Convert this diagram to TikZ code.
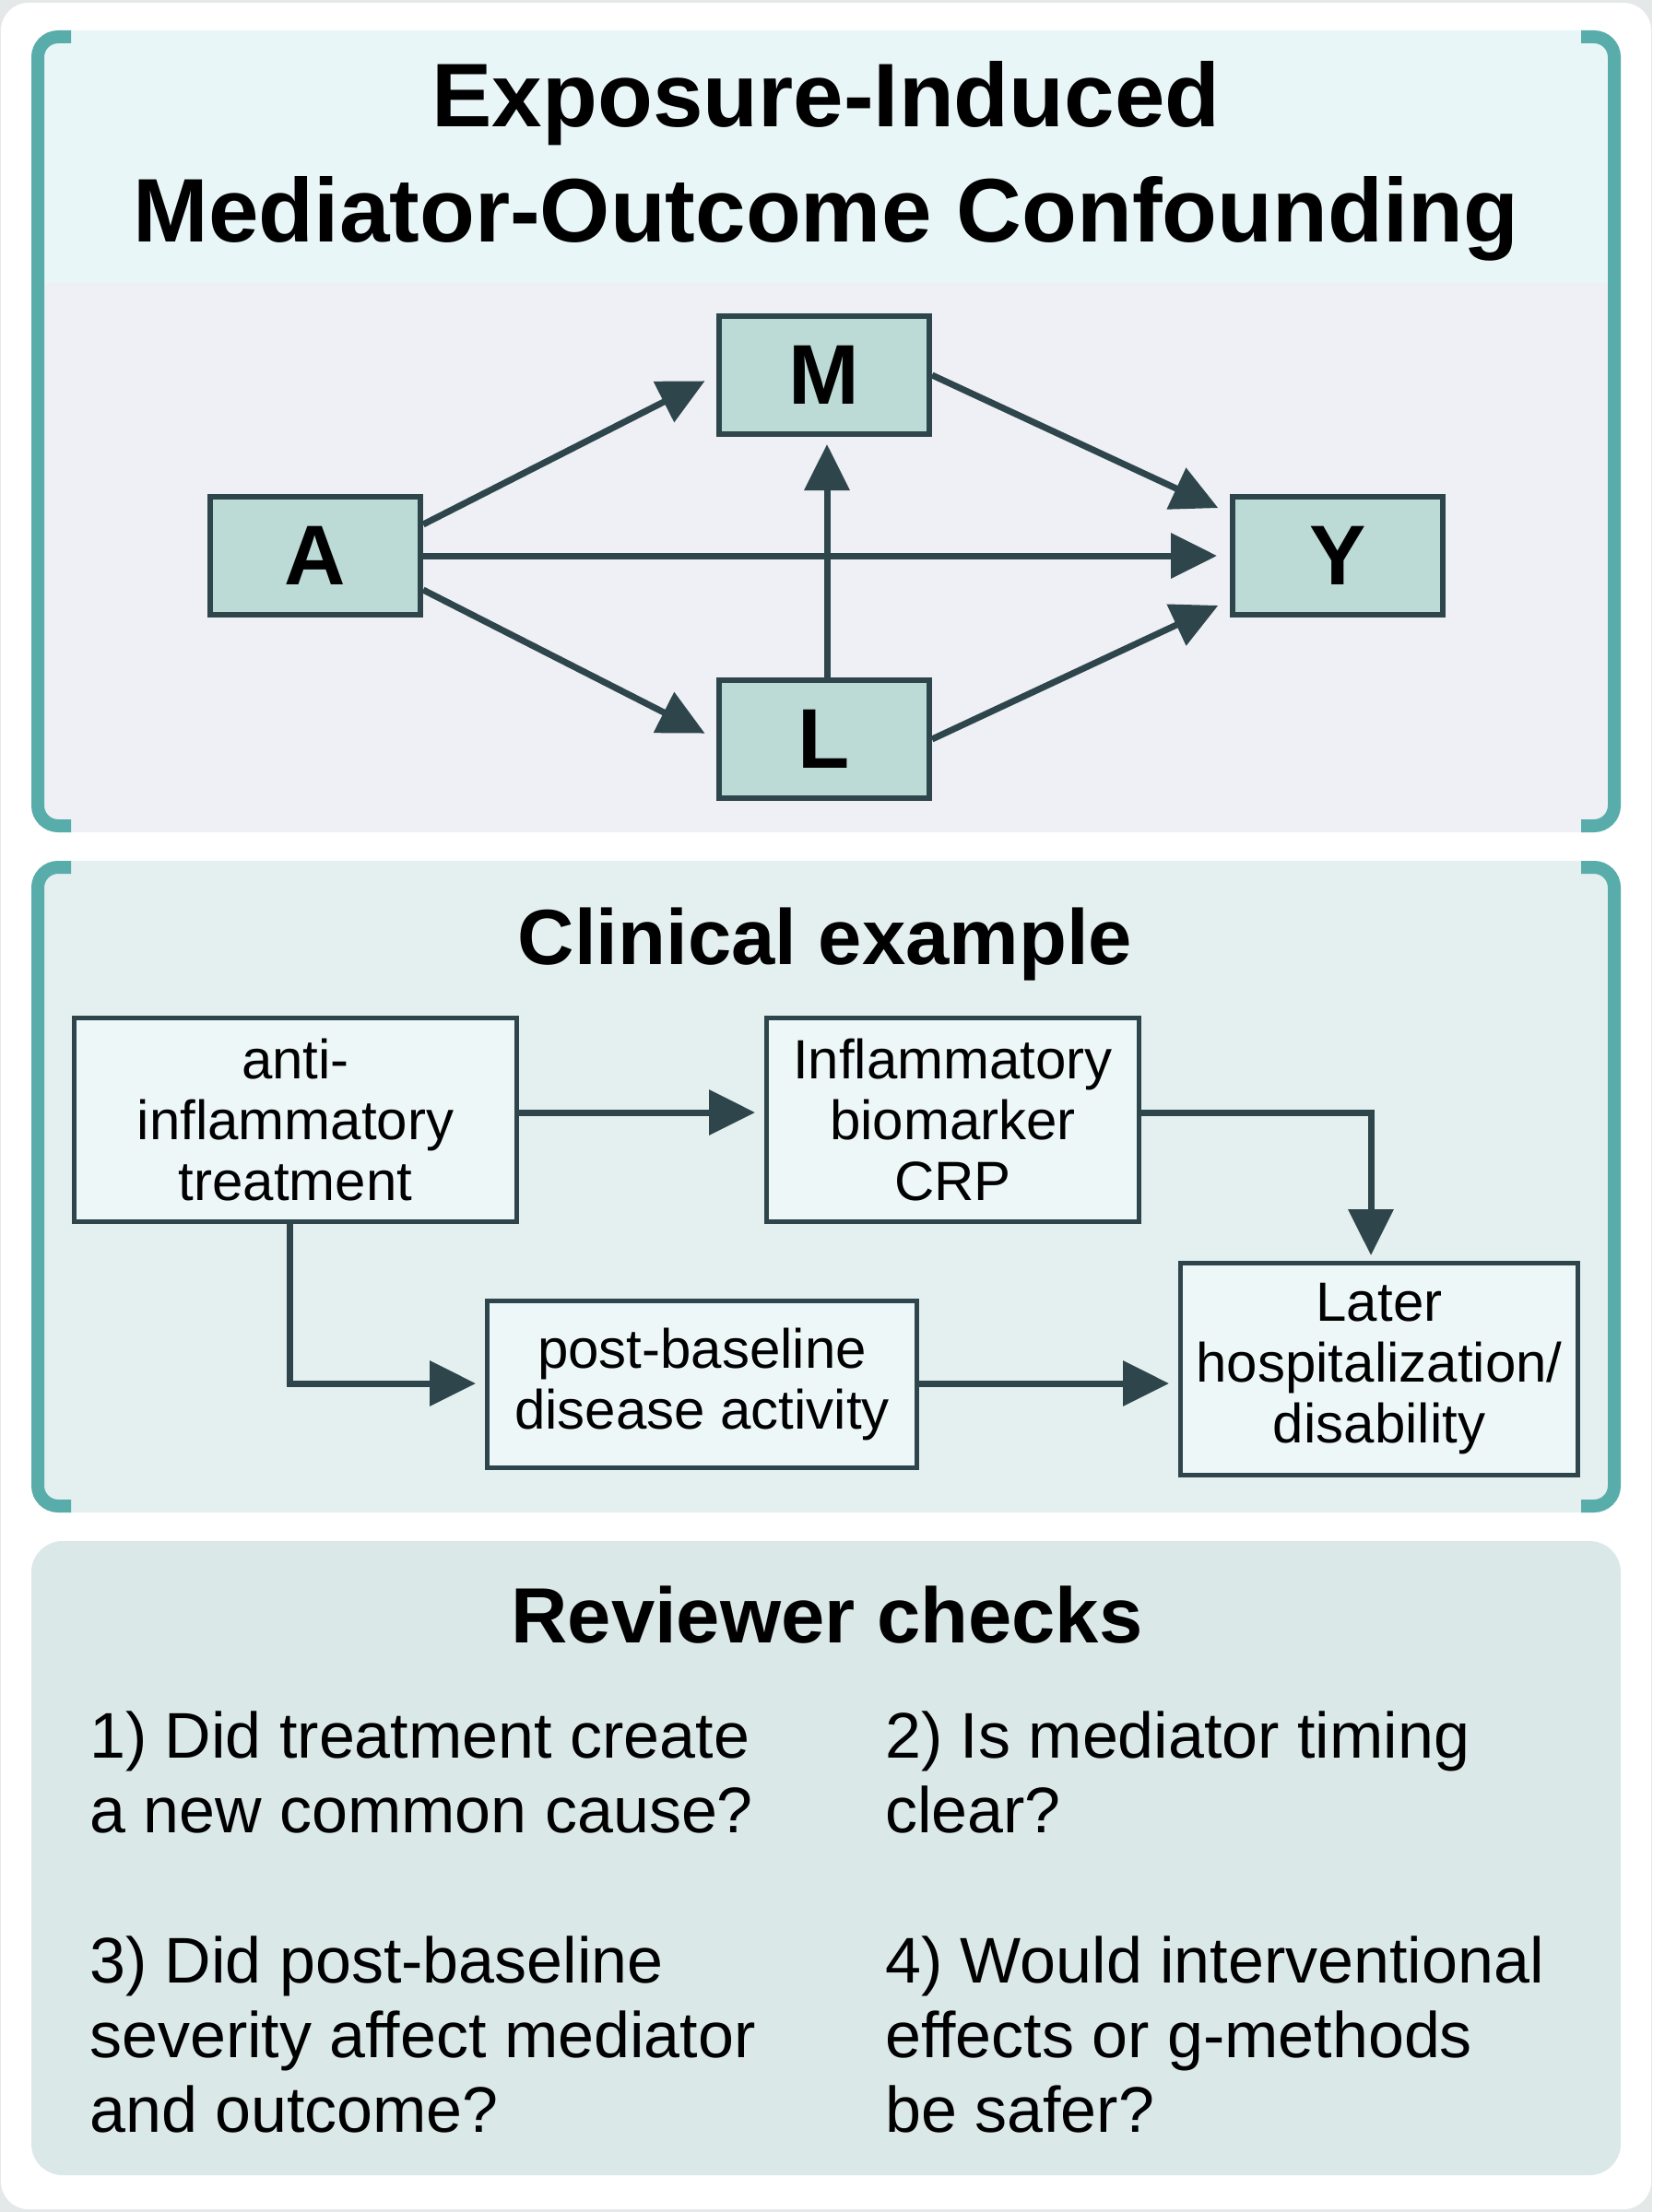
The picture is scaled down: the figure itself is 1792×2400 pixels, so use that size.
\documentclass[tikz,border=0pt]{standalone}
\usepackage{fontspec}
\setmainfont{Liberation Sans}
\usetikzlibrary{arrows.meta}
\definecolor{bgouter}{HTML}{E4E8E8}
\definecolor{bandone}{HTML}{E9F6F8}
\definecolor{lowone}{HTML}{EEF0F5}
\definecolor{pantwo}{HTML}{E3F0EF}
\definecolor{panthree}{HTML}{DAE8E8}
\definecolor{brk}{HTML}{58ADAB}
\definecolor{dagfill}{HTML}{BCDAD6}
\definecolor{boxfill}{HTML}{EDF7F7}
\definecolor{edgec}{HTML}{2E464B}
\begin{document}
\begin{tikzpicture}[x=1pt,y=-1pt,
  bracket/.style={draw=brk,line width=14pt,rounded corners=22pt},
  ttl/.style={font=\fontsize{98}{124}\selectfont\bfseries,inner sep=0pt},
  subttl/.style={font=\fontsize{85}{100}\selectfont\bfseries,inner sep=0pt},
  dag/.style={draw=edgec,fill=dagfill,line width=6pt,minimum width=228pt,minimum height=128pt,inner sep=0pt,font=\fontsize{92}{100}\selectfont\bfseries},
  cbox/.style={draw=edgec,fill=boxfill,line width=5pt,inner sep=0pt,align=center,font=\fontsize{60}{66}\selectfont},
  arr/.style={draw=edgec,line width=7pt,-{Triangle[length=50pt,width=48pt]}},
  checktxt/.style={anchor=north west,align=left,inner sep=0pt,font=\fontsize{70}{81}\selectfont}
]
\useasboundingbox (0,0) rectangle (1792,2400);
\fill[bgouter] (0,0) rectangle (1792,2400);
\fill[white,rounded corners=30pt] (1,3) rectangle (1791,2397);

% panel 1
\fill[bandone,rounded corners=22pt] (41,33) rectangle (1751,330);
\fill[lowone] (41,307) rectangle (1751,860);
\fill[lowone,rounded corners=22pt] (41,700) rectangle (1751,903);
\draw[bracket] (77,40) -- (41,40) -- (41,896) -- (77,896);
\draw[bracket] (1715,40) -- (1751,40) -- (1751,896) -- (1715,896);

% panel 2
\fill[pantwo,rounded corners=22pt] (41,934) rectangle (1751,1641);
\draw[bracket] (77,941) -- (41,941) -- (41,1634) -- (77,1634);
\draw[bracket] (1715,941) -- (1751,941) -- (1751,1634) -- (1715,1634);

% panel 3
\fill[panthree,rounded corners=34pt] (34,1672) rectangle (1758,2360);

% titles
\node[ttl,anchor=base] (t1) at (896,138) {Exposure-Induced};
\node[ttl,anchor=base] (t2) at (896,262) {Mediator-Outcome Confounding};
\node[subttl,anchor=base] (t3) at (895,1046) {Clinical example};
\node[subttl,anchor=base] (t4) at (897,1782) {Reviewer checks};

% DAG
\node[dag] (A) at (342,603) {A};
\node[dag] (M) at (894,407) {M};
\node[dag] (Y) at (1451,603) {Y};
\node[dag] (L) at (894,802) {L};

\draw[arr,shorten >=14pt] ([yshift=34pt]A.east) -- (M.west);
\draw[arr,shorten >=14pt] (M.east) -- ([yshift=46pt]Y.west);
\draw[arr,shorten >=14pt] (A.east) -- (Y.west);
\draw[arr,shorten >=14pt] ([yshift=-37pt]A.east) -- (L.west);
\draw[arr,shorten >=14pt] (L.east) -- ([yshift=-48pt]Y.west);
\draw[arr,shorten >=8pt] ([xshift=3pt]L.north) -- ([xshift=3pt]M.south);

% clinical example
\node[cbox,minimum width=480pt,minimum height=221pt] (T) at (320.5,1215) {anti-\\inflammatory\\treatment};
\node[cbox,minimum width=404pt,minimum height=221pt] (C) at (1033.5,1215) {Inflammatory\\biomarker\\CRP};
\node[cbox,minimum width=466pt,minimum height=181pt] (P) at (761.5,1502) {post-baseline\\disease activity};
\node[cbox,minimum width=431pt,minimum height=230pt] (Lt) at (1496,1485.5) {Later\\hospitalization/\\disability};

\draw[arr,shorten >=10pt] ([yshift=8pt]T.east) -- ([yshift=8pt]C.west);
\draw[arr,shorten >=6pt] ([yshift=8pt]C.east) -| ([xshift=-9pt]Lt.north);
\draw[arr,shorten >=10pt] ([xshift=-6pt]T.south) |- ([yshift=1pt]P.west);
\draw[arr,shorten >=10pt] ([yshift=1pt]P.east) -- ([yshift=1pt]P.east -| Lt.west);

% reviewer checks
\node[checktxt] (q1) at (97,1857) {1) Did treatment create\\a new common cause?};
\node[checktxt] (q2) at (960,1857) {2) Is mediator timing\\clear?};
\node[checktxt] (q3) at (97,2101) {3) Did post-baseline\\severity affect mediator\\and outcome?};
\node[checktxt] (q4) at (960,2101) {4) Would interventional\\effects or g-methods\\be safer?};
\end{tikzpicture}
\end{document}
